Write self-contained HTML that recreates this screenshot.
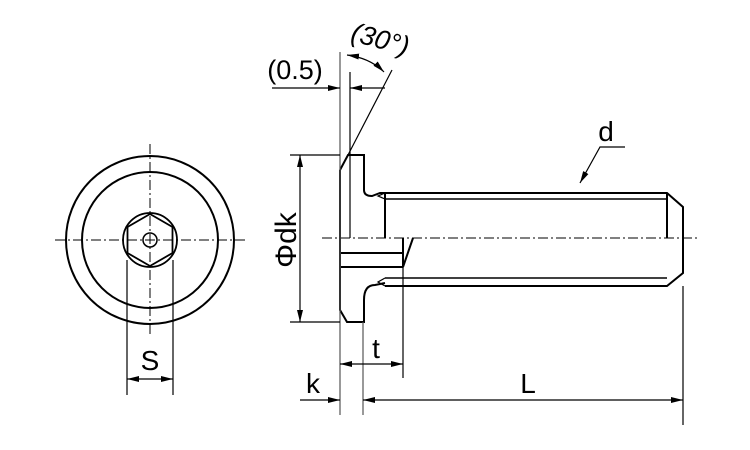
<!DOCTYPE html>
<html><head><style>html,body{margin:0;padding:0;background:#fff;}svg{display:block}</style></head>
<body>
<svg width="750" height="450" viewBox="0 0 750 450" xmlns="http://www.w3.org/2000/svg" font-family="Liberation Sans, sans-serif">
<defs>
<marker id="a" viewBox="0 0 12 6" refX="12" refY="3" markerWidth="12" markerHeight="6" orient="auto-start-reverse" markerUnits="userSpaceOnUse"><path d="M0,0 L12,3 L0,6 z" fill="#000"/></marker>
</defs>
<g fill="none" stroke="#000">
<circle cx="150" cy="240" r="84" stroke-width="2"/>
<circle cx="150" cy="240" r="68" stroke-width="2"/>
<circle cx="150" cy="240" r="27" stroke-width="1.8"/>
<polygon points="150,214 172.5,227 172.5,253 150,266 127.5,253 127.5,227" stroke-width="1.8"/>
<circle cx="150" cy="240" r="7" stroke-width="1.5"/>
<g stroke-width="1" stroke-dasharray="10,3,2,3">
<line x1="55" y1="240" x2="248" y2="240"/>
<line x1="150" y1="144" x2="150" y2="335"/>
<line x1="322" y1="238" x2="697" y2="238"/>
</g>
<g stroke-width="1.2">
<line x1="127" y1="260" x2="127" y2="395"/>
<line x1="173" y1="260" x2="173" y2="395"/>
<line x1="127" y1="379" x2="173" y2="379" marker-start="url(#a)" marker-end="url(#a)"/>
</g>
<g stroke-width="2">
<path d="M340,170 L348,155 L364,155 L364,190 Q364,196 372,196 L380,193 L385,193"/>
<path d="M340,170 L340,310 L347,322 L364,322 L364,300 Q364,285 375,285 L385,283"/>
<line x1="340" y1="253" x2="403" y2="253"/>
<line x1="340" y1="267" x2="403" y2="267"/>
<path d="M403,238 L403,267 L413,238"/>
<path d="M385,193 L667,193 L683,207 L683,273 L667,286 L385,286"/>
<line x1="385" y1="199" x2="667" y2="199" stroke-width="1.5"/>
<line x1="385" y1="278" x2="667" y2="278" stroke-width="1.5"/>
<line x1="385" y1="193" x2="385" y2="238"/>
<line x1="667" y1="193" x2="667" y2="238"/>
<path d="M385,193 L378,196 L385,199" stroke-width="1.2"/>
<path d="M385,278 L378,282 L385,286" stroke-width="1.2"/>
</g>
<line x1="350" y1="72" x2="350" y2="238" stroke-width="1.2"/>
<g stroke-width="1.2">
<line x1="340" y1="52" x2="340" y2="415" stroke="#555"/>
<line x1="363" y1="322" x2="363" y2="415" stroke="#555"/>
<line x1="403" y1="267" x2="403" y2="378"/>
<line x1="683" y1="286" x2="683" y2="425"/>
<line x1="290" y1="155" x2="340" y2="155"/>
<line x1="290" y1="322" x2="340" y2="322"/>
<line x1="300" y1="155" x2="300" y2="322" marker-start="url(#a)" marker-end="url(#a)"/>
<line x1="340" y1="364" x2="403" y2="364" marker-start="url(#a)" marker-end="url(#a)"/>
<line x1="300" y1="400" x2="340" y2="400" marker-end="url(#a)"/>
<line x1="363" y1="400" x2="683" y2="400" marker-start="url(#a)" marker-end="url(#a)"/>
<line x1="272" y1="88" x2="340" y2="88" marker-end="url(#a)"/>
<line x1="385" y1="88" x2="350" y2="88" marker-end="url(#a)"/>
<line x1="348" y1="155" x2="392" y2="70"/>
<path d="M347,55 Q370,58 384,72" marker-start="url(#a)" marker-end="url(#a)"/>
<path d="M625,147 L600,147 L580,183" marker-end="url(#a)"/>
</g>
</g>
<g fill="#000" font-size="28">
<text x="150" y="370" text-anchor="middle">S</text>
<text x="376" y="358" text-anchor="middle">t</text>
<text x="313" y="393" text-anchor="middle">k</text>
<text x="528" y="393" text-anchor="middle">L</text>
<text x="606" y="141" text-anchor="middle">d</text>
<text x="295" y="79" text-anchor="middle" font-size="27">(0.5)</text>
<text transform="translate(296,240) rotate(-90)" text-anchor="middle" font-size="30">Φdk</text>
<text transform="translate(378,48) rotate(15)" text-anchor="middle" font-style="italic" font-size="27">(30°)</text>
</g>
</svg>
</body></html>
